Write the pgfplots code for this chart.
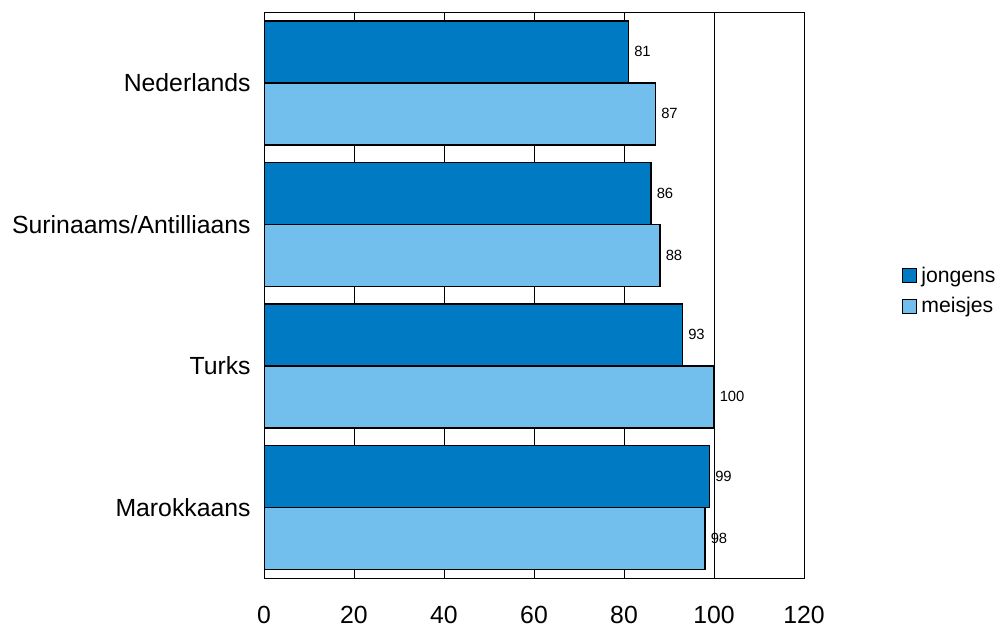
\documentclass[border=0pt]{standalone}
\usepackage{fontspec}
\setmainfont{Liberation Sans}
\usepackage{pgfplots}
\pgfplotsset{compat=1.18}
\definecolor{jong}{RGB}{0,122,194}
\definecolor{meis}{RGB}{114,190,236}
\begin{document}
\begin{tikzpicture}
\useasboundingbox (0,0) rectangle (500pt,313.5pt);
\begin{axis}[
  at={(132pt,24.5pt)}, anchor=south west,
  width=270pt, height=283pt, scale only axis,
  xmin=0, xmax=120, xtick={0,20,...,120},
  ymin=-0.5, ymax=3.5, y dir=reverse,
  ytick={0,1,2,3},
  yticklabels={Nederlands,Surinaams/Antilliaans,Turks,Marokkaans},
  major tick length=0pt,
  xmajorgrids,
  major grid style={black, line width=0.5pt},
  axis line style={black, line width=0.5pt},
  /pgf/number format/assume math mode=true,
  tick label style={font=\fontsize{12.4}{14}\selectfont},
  xticklabel style={anchor=base, yshift=-22.5pt},
  yticklabel style={anchor=east, inner sep=0pt, xshift=-6.5pt},
  xbar, bar width=31pt,
  nodes near coords,
  nodes near coords style={font=\fontsize{7.4}{8}\selectfont, inner sep=0pt, xshift=2.5pt, anchor=west},
  legend style={at={(rel axis cs:1.181,0.507)}, anchor=west, draw=none, fill=none,
    font=\fontsize{10.6}{12.5}\selectfont, row sep=2pt, inner sep=0pt},
  legend cell align=left,
  legend image code/.code={\draw[#1,draw=black,line width=0.6pt] (0pt,-3.5pt) rectangle (7pt,3.5pt);},
]
\addplot[fill=jong, draw=black, line width=0.75pt, bar shift=15.5pt] coordinates {(81,0) (86,1) (93,2) (99,3)};
\addplot[fill=meis, draw=black, line width=0.75pt, bar shift=-15.5pt] coordinates {(87,0) (88,1) (100,2) (98,3)};
\legend{jongens,meisjes}
\node[font=\fontsize{12.4}{14}\selectfont] at (rel axis cs:1.067,0.014) {\%};
\end{axis}
\end{tikzpicture}
\end{document}
